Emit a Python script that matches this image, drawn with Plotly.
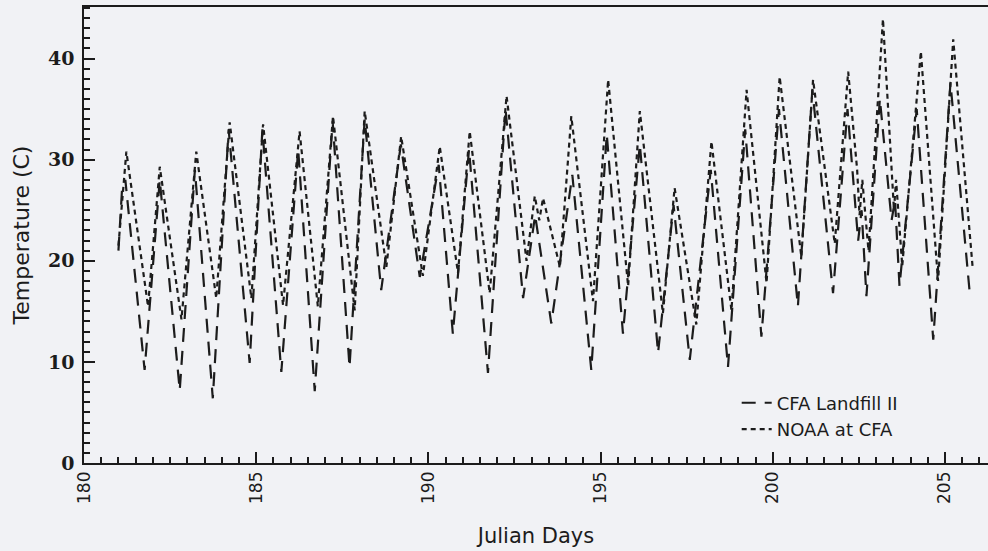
import plotly.graph_objects as go

# Daily-cycle turning points (Julian day, temperature in C)
landfill_day = [181.00, 181.11, 181.20, 181.76, 182.20, 182.78, 183.22, 183.74, 184.20, 184.81,
                185.18, 185.73, 186.22, 186.70, 187.22, 187.71, 188.15, 188.63, 189.20, 189.75,
                190.30, 190.71, 191.18, 191.73, 192.24, 192.75, 193.10, 193.57, 194.18, 194.73,
                195.18, 195.65, 196.14, 196.67, 197.12, 197.59, 198.20, 198.70, 199.20, 199.67,
                200.18, 200.73, 201.15, 201.75, 202.17, 202.48, 202.58, 202.72, 203.11, 203.45,
                203.55, 203.68, 204.18, 204.66, 205.16, 205.72]
landfill_temp = [21.0, 27.4, 28.0, 9.2, 28.0, 7.2, 29.0, 6.4, 33.0, 9.9,
                 33.0, 9.0, 31.0, 7.1, 33.8, 9.5, 34.0, 17.1, 31.5, 18.4,
                 29.5, 12.8, 31.0, 8.9, 35.0, 16.3, 24.5, 13.8, 28.5, 9.2,
                 32.5, 12.8, 31.5, 10.9, 25.5, 10.2, 29.0, 9.5, 33.0, 12.5,
                 35.0, 15.5, 36.9, 16.8, 35.0, 22.0, 25.0, 16.5, 36.0, 24.0,
                 26.0, 17.5, 35.0, 12.2, 37.6, 16.8]

noaa_day = [181.00, 181.23, 181.86, 182.20, 182.83, 183.26, 183.84, 184.23, 184.86, 185.20,
            185.78, 186.26, 186.79, 187.23, 187.86, 188.15, 188.78, 189.21, 189.84, 190.33,
            190.86, 191.20, 191.78, 192.27, 192.85, 193.09, 193.22, 193.33, 193.82, 194.15,
            194.78, 195.22, 195.80, 196.14, 196.81, 197.15, 197.78, 198.22, 198.80, 199.24,
            199.82, 200.20, 200.83, 201.17, 201.80, 202.19, 202.45, 202.52, 202.60, 202.78,
            203.20, 203.45, 203.52, 203.58, 203.76, 204.30, 204.80, 205.24, 205.80]
noaa_temp = [21.5, 30.8, 15.5, 29.3, 14.2, 30.8, 16.3, 33.7, 16.3, 33.5,
             15.6, 32.8, 15.5, 34.3, 15.1, 34.8, 19.4, 32.3, 18.5, 31.3,
             18.8, 32.8, 16.8, 36.3, 20.0, 26.4, 24.0, 26.2, 19.4, 34.3,
             16.0, 37.9, 17.5, 34.8, 14.8, 27.2, 13.7, 31.8, 15.1, 36.9,
             17.8, 38.2, 20.4, 37.9, 21.7, 38.7, 29.0, 24.5, 28.0, 21.0,
             43.9, 29.5, 25.0, 28.0, 19.5, 40.7, 18.0, 41.9, 19.5]

x_tick_vals = [180, 185, 190, 195, 200, 205]
y_tick_vals = [0, 10, 20, 30, 40]

ink = "#1c1c1c"
bg = "#f1f2f5"

fig = go.Figure()
fig.add_trace(go.Scatter(
    x=landfill_day, y=landfill_temp, mode="lines", name="CFA Landfill II",
    line=dict(color=ink, width=2.2, dash="14px,9px"),
))
fig.add_trace(go.Scatter(
    x=noaa_day, y=noaa_temp, mode="lines", name="NOAA at CFA",
    line=dict(color=ink, width=2.2, dash="5px,4px"),
))

fig.update_layout(
    width=988, height=551,
    margin=dict(l=84, r=0, t=7, b=88),
    paper_bgcolor=bg, plot_bgcolor=bg,
    showlegend=True,
    legend=dict(
        x=0.722, y=0.172, xanchor="left", yanchor="top",
        bgcolor="rgba(0,0,0,0)", borderwidth=0,
        font=dict(family="DejaVu Sans", size=18, color=ink),
        tracegroupgap=0, itemwidth=30,
    ),
    font=dict(family="DejaVu Sans", color=ink),
)

fig.update_xaxes(
    range=[180, 206.25], tickvals=x_tick_vals, ticktext=[str(v) for v in x_tick_vals],
    tickangle=-90, tickfont=dict(family="DejaVu Sans", size=17, color=ink),
    ticks="inside", ticklen=11, tickwidth=1.5, tickcolor=ink,
    minor=dict(dtick=0.5, tick0=180, ticks="inside", ticklen=6, tickwidth=1.5, tickcolor=ink),
    showline=True, linecolor=ink, linewidth=1.5, mirror=True,
    showgrid=False, zeroline=False,
    title=dict(text="Julian Days", font=dict(family="DejaVu Sans", size=21, color=ink), standoff=25),
)
fig.update_yaxes(
    range=[0, 45.1], tickvals=y_tick_vals, ticktext=[str(v) for v in y_tick_vals],
    tickfont=dict(family="DejaVu Serif", size=19, color=ink, weight="bold"),
    ticks="inside", ticklen=11, tickwidth=1.5, tickcolor=ink,
    minor=dict(dtick=1, tick0=0, ticks="inside", ticklen=6, tickwidth=1.5, tickcolor=ink),
    showline=True, linecolor=ink, linewidth=1.5, mirror=False,
    showgrid=False, zeroline=False, ticklabelstandoff=4,
    title=dict(text="Temperature (C)", font=dict(family="DejaVu Sans", size=22, color=ink), standoff=12),
)

fig.write_html("out.html")
